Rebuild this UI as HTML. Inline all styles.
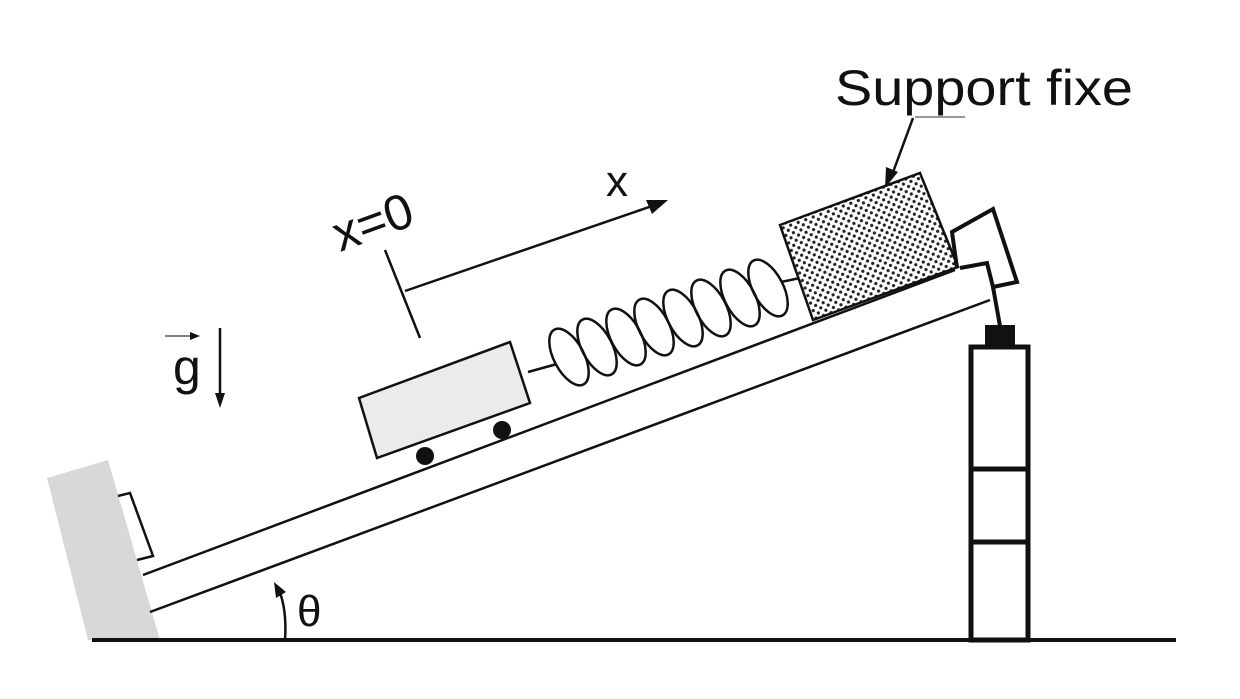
<!DOCTYPE html>
<html><head><meta charset="utf-8"><style>html,body{margin:0;padding:0;background:#fff}svg{display:block}</style></head>
<body>
<svg width="1240" height="699" viewBox="0 0 1240 699" xmlns="http://www.w3.org/2000/svg" font-family="Liberation Sans, sans-serif">
<defs>
<pattern id="dots" width="8" height="8" patternUnits="userSpaceOnUse" patternTransform="rotate(-20)">
<rect width="8" height="8" fill="#fff"/>
<circle cx="2" cy="2" r="1.6" fill="#222"/><circle cx="6" cy="6" r="1.6" fill="#222"/>
</pattern>
</defs>
<rect width="1240" height="699" fill="#fff"/>
<polygon points="47,478 108,460 160,640 88,640" fill="#d8d8d8"/>
<polyline points="118,496 130,493 153,556 137,560" fill="none" stroke="#111" stroke-width="2.5"/>
<line x1="92" y1="640" x2="1176" y2="640" stroke="#111" stroke-width="4"/>
<line x1="143" y1="575" x2="955" y2="270" stroke="#111" stroke-width="2.5"/>
<line x1="150" y1="612" x2="990" y2="300" stroke="#111" stroke-width="2.5"/>
<polygon points="359,398 510,342 530,403 377,458" fill="#ebebeb" stroke="#111" stroke-width="2.5"/>
<circle cx="425" cy="456" r="9" fill="#111"/>
<circle cx="502" cy="430" r="9" fill="#111"/>
<line x1="528" y1="372" x2="557" y2="364" stroke="#111" stroke-width="2.5"/>
<g fill="none" stroke="#111" stroke-width="2.5">
<ellipse cx="569" cy="357" rx="15" ry="31" transform="rotate(-28 569 357)"/>
<ellipse cx="597" cy="347" rx="15" ry="31" transform="rotate(-28 597 347)"/>
<ellipse cx="626" cy="337" rx="15" ry="31" transform="rotate(-28 626 337)"/>
<ellipse cx="654" cy="327" rx="15" ry="31" transform="rotate(-28 654 327)"/>
<ellipse cx="683" cy="318" rx="15" ry="31" transform="rotate(-28 683 318)"/>
<ellipse cx="711" cy="308" rx="15" ry="31" transform="rotate(-28 711 308)"/>
<ellipse cx="740" cy="298" rx="15" ry="31" transform="rotate(-28 740 298)"/>
<ellipse cx="768" cy="288" rx="15" ry="31" transform="rotate(-28 768 288)"/>
</g>
<line x1="781" y1="282" x2="800" y2="278" stroke="#111" stroke-width="2.5"/>
<polygon points="780,225 920,173 958,267 813,320" fill="url(#dots)" stroke="#111" stroke-width="2.5"/>
<polyline points="957,268 952,232 993,209 1017,282 993,287 987,263 960,268" fill="none" stroke="#111" stroke-width="4"/>
<line x1="993" y1="287" x2="1000" y2="326" stroke="#111" stroke-width="4"/>
<rect x="985" y="325" width="30" height="22" fill="#111"/>
<rect x="971" y="347" width="57" height="293" fill="none" stroke="#111" stroke-width="5"/>
<line x1="971" y1="469" x2="1028" y2="469" stroke="#111" stroke-width="5"/>
<line x1="971" y1="542" x2="1028" y2="542" stroke="#111" stroke-width="5"/>
<text x="835" y="105" font-size="50" textLength="298" lengthAdjust="spacingAndGlyphs" fill="#111">Support fixe</text>
<line x1="915" y1="117" x2="965" y2="117" stroke="#999" stroke-width="2"/>
<line x1="913" y1="118" x2="892" y2="175" stroke="#111" stroke-width="2.5"/>
<polygon points="885,188 886,167 898,172" fill="#111"/>
<line x1="385" y1="250" x2="420" y2="338" stroke="#111" stroke-width="2.5"/>
<line x1="405" y1="291" x2="655" y2="205" stroke="#111" stroke-width="2.5"/>
<polygon points="668,200 646,200 652,214" fill="#111"/>
<text x="606" y="196" font-size="44" fill="#111">x</text>
<text x="0" y="0" font-size="50" fill="#111" transform="translate(340,252) rotate(-20)">x=0</text>
<text x="173" y="384" font-size="50" fill="#111">g</text>
<line x1="165" y1="336" x2="195" y2="336" stroke="#555" stroke-width="1.5"/>
<polygon points="200,336 190,332 190,340" fill="#111"/>
<line x1="220" y1="328" x2="220" y2="400" stroke="#111" stroke-width="2.5"/>
<polygon points="220,408 215,393 225,393" fill="#111"/>
<path d="M285,640 Q287,610 279,590" fill="none" stroke="#111" stroke-width="2.5"/>
<polygon points="274,582 276,598 286,592" fill="#111"/>
<text x="297" y="626" font-size="44" fill="#111">θ</text>
</svg>
</body></html>
